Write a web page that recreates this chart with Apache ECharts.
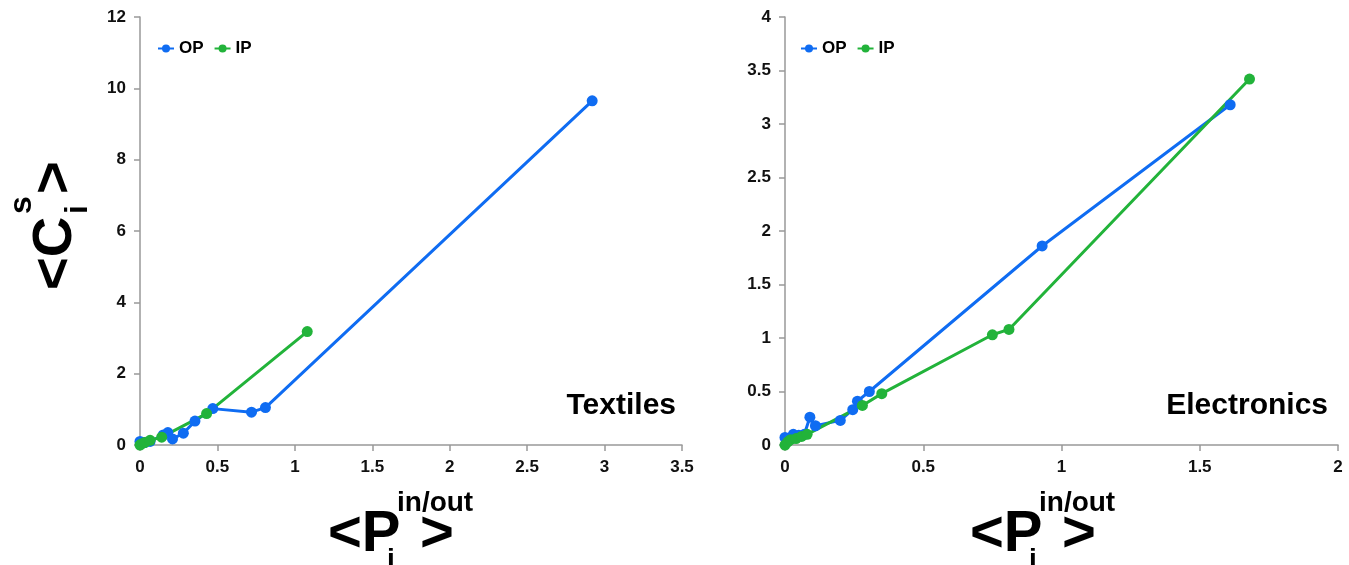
<!doctype html>
<html>
<head>
<meta charset="utf-8">
<title>Textiles / Electronics</title>
<script src="https://cdn.jsdelivr.net/npm/echarts@6/dist/echarts.min.js"></script>
<style>
html,body{margin:0;padding:0;background:#fff;}
#main{width:1349px;height:565px;}
</style>
</head>
<body>
<div id="main"></div>
<script>
// data: [x, y] pairs
var textilesOP = [[0,0.1],[0.03,0.07],[0.065,0.1],[0.15,0.28],[0.18,0.35],[0.21,0.17],[0.28,0.33],[0.355,0.67],[0.47,1.02],[0.72,0.92],[0.81,1.05],[2.92,9.65]];
var textilesIP = [[0,0],[0.01,0.03],[0.03,0.07],[0.065,0.13],[0.14,0.22],[0.43,0.88],[1.08,3.18]];
var electronicsOP = [[0,0.07],[0.01,0.06],[0.03,0.1],[0.05,0.09],[0.07,0.1],[0.09,0.26],[0.11,0.18],[0.2,0.23],[0.245,0.33],[0.262,0.41],[0.305,0.5],[0.93,1.86],[1.61,3.18]];
var electronicsIP = [[0,0],[0.01,0.03],[0.02,0.05],[0.04,0.06],[0.06,0.08],[0.08,0.1],[0.28,0.37],[0.35,0.48],[0.75,1.03],[0.81,1.08],[1.68,3.42]];
var seriesNames = ['OP','IP'];
var panelNames = ['Textiles','Electronics'];

var blue = '#0f6cf2';
var green = '#22b33a';
var myChart = echarts.init(document.getElementById('main'));

var axisCommon = {
  type:'value',
  axisLine:{show:true,lineStyle:{color:'#999',width:1.5}},
  axisTick:{show:true,inside:false,length:6,lineStyle:{color:'#999',width:1.5}},
  splitLine:{show:false},
  axisLabel:{color:'#111',fontWeight:'bold',fontSize:17,fontFamily:'Liberation Sans',margin:14}
};
function ax(idx,min,max,interval){
  return Object.assign({},axisCommon,{gridIndex:idx,min:min,max:max,interval:interval});
}
function line(name,color,data,idx){
  return {
    name:name,type:'line',xAxisIndex:idx,yAxisIndex:idx,data:data,
    symbol:'circle',symbolSize:11,
    lineStyle:{color:color,width:3},
    itemStyle:{color:color}
  };
}

var big = {fontFamily:'Liberation Sans',fontWeight:'bold',fill:'#000'};
// <P_i^{in/out}> under each panel
function xTitle(x0){
  return {
    type:'group',x:x0,y:0,
    children:[
      {type:'text',x:0,y:506,style:Object.assign({text:'<P',fontSize:58},big)},
      {type:'text',x:59,y:546,style:Object.assign({text:'i',fontSize:28},big)},
      {type:'text',x:69,y:489,style:Object.assign({text:'in/out',fontSize:28},big)},
      {type:'text',x:92,y:506,style:Object.assign({text:'>',fontSize:58},big)}
    ]
  };
}
var legendText = {color:'#000',fontWeight:'bold',fontSize:17,fontFamily:'Liberation Sans'};

myChart.setOption({
  animation:false,
  grid:[
    {left:140,top:17,width:542,height:428},
    {left:785,top:17,width:553,height:428}
  ],
  xAxis:[ax(0,0,3.5,0.5),ax(1,0,2,0.5)],
  yAxis:[ax(0,0,12,2),ax(1,0,4,0.5)],
  legend:[
    {data:seriesNames,left:152,top:35,itemWidth:16,itemHeight:10,itemGap:10,textStyle:legendText},
    {data:seriesNames,left:795,top:35,itemWidth:16,itemHeight:10,itemGap:10,textStyle:legendText}
  ],
  series:[
    line('OP',blue,textilesOP,0),
    line('IP',green,textilesIP,0),
    line('OP',blue,electronicsOP,1),
    line('IP',green,electronicsIP,1)
  ],
  graphic:[
    {type:'text',right:1349-676,top:391,style:Object.assign({text:panelNames[0],fontSize:30},big)},
    {type:'text',right:1349-1328,top:391,style:Object.assign({text:panelNames[1],fontSize:30},big)},
    xTitle(328),
    xTitle(970),
    {
      // <C_i^s> rotated along the left axis
      type:'group',x:28,y:290,rotation:Math.PI/2,
      children:[
        {type:'text',x:0,y:0,style:Object.assign({text:'<C',fontSize:56},big)},
        {type:'text',x:76,y:-22,style:Object.assign({text:'s',fontSize:32},big)},
        {type:'text',x:76,y:34,style:Object.assign({text:'i',fontSize:32},big)},
        {type:'text',x:96,y:0,style:Object.assign({text:'>',fontSize:56},big)}
      ]
    }
  ]
});
</script>
</body>
</html>
